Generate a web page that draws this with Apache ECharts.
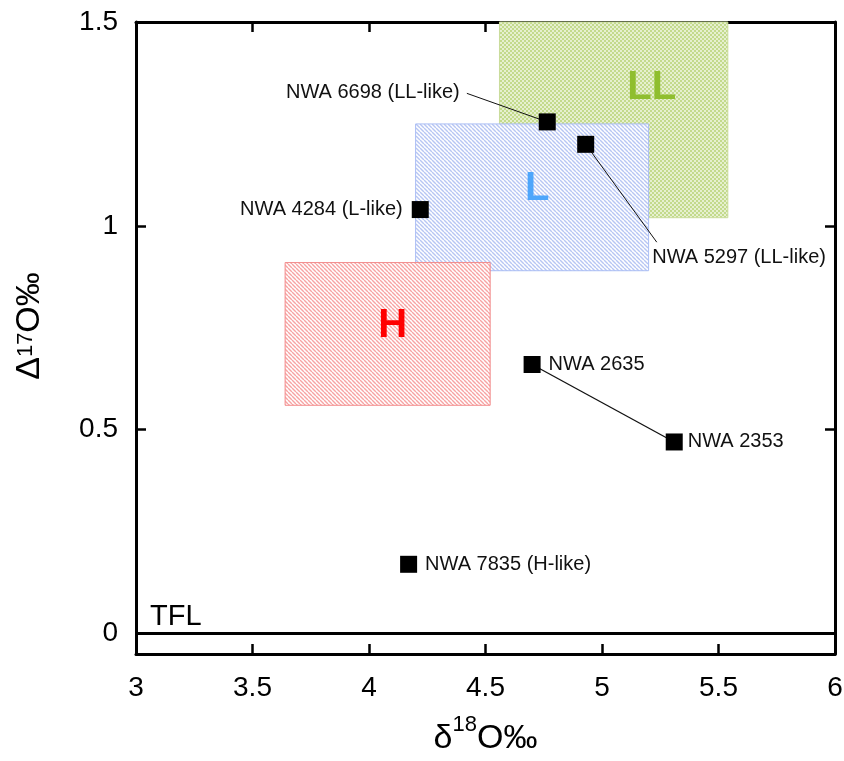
<!DOCTYPE html>
<html>
<head>
<meta charset="utf-8">
<script src="https://cdn.jsdelivr.net/npm/echarts@6/dist/echarts.min.js"></script>
<style>
  html, body { margin: 0; padding: 0; background: #fff; }
  #chart { width: 844px; height: 761px; }
</style>
</head>
<body>
<div id="chart"></div>
<script>
// Axis ticks
const xTicks = [3, 3.5, 4, 4.5, 5, 5.5, 6];
const yTicks = [0, 0.5, 1, 1.5];

// Meteorites: δ18O and Δ17O (‰)
const meteorites = ['NWA 6698 (LL-like)', 'NWA 5297 (LL-like)', 'NWA 4284 (L-like)', 'NWA 2635', 'NWA 2353', 'NWA 7835 (H-like)'];
const d18O = [4.765, 4.93, 4.22, 4.70, 5.31, 4.17];
const D17O = [1.255, 1.20, 1.04, 0.66, 0.47, 0.17];

// Ordinary chondrite group fields (drawn in this order: LL, L, H)
const groups = ['LL', 'L', 'H'];
const groupD18O = [[4.56, 5.54], [4.20, 5.20], [3.64, 4.52]];
const groupD17O = [[1.02, 1.50], [0.89, 1.25], [0.56, 0.91]];

// Terrestrial fractionation line
const tflD17O = 0;

// Leader lines: label anchor -> meteorite
const leaderFrom = [[4.42, 1.325], [5.235, 0.96]];
const leaderTo = ['NWA 6698 (LL-like)', 'NWA 5297 (LL-like)'];
// Paired meteorites joined by a line
const pairedLink = ['NWA 2635', 'NWA 2353'];

const FONT = 'Liberation Sans, Arial, sans-serif';

function stripePattern(bg, fg, size, width) {
  const c = document.createElement('canvas');
  c.width = size; c.height = size;
  const g = c.getContext('2d');
  g.fillStyle = bg; g.fillRect(0, 0, size, size);
  g.strokeStyle = fg; g.lineWidth = width;
  for (let k = -1; k <= 1; k++) {
    g.beginPath();
    g.moveTo(k * size, 0);
    g.lineTo(k * size + size, size);
    g.stroke();
  }
  return { image: c, repeat: 'repeat' };
}
function checkPattern(a, b) {
  const c = document.createElement('canvas');
  c.width = 4; c.height = 4;
  const g = c.getContext('2d');
  g.fillStyle = b; g.fillRect(0, 0, 4, 4);
  g.fillStyle = a;
  g.fillRect(0, 0, 2, 2); g.fillRect(2, 2, 2, 2);
  return { image: c, repeat: 'repeat' };
}

const groupStyle = {
  LL: { fill: checkPattern('#c3da8c', '#e6f0cf'), border: '#c9dc9a', text: '#8fbe2e', offset: [38, -32] },
  L:  { fill: stripePattern('#ffffff', '#b7c6f3', 4, 1.4), border: '#aabdf4', text: '#4ea6fb', offset: [5, -8] },
  H:  { fill: stripePattern('#ffffff', '#f7a3a3', 4, 1.4), border: '#f28a8a', text: '#ff0000', offset: [5, -8] }
};

const areaSeries = groups.map((g, i) => ({
  type: 'scatter',
  name: g,
  data: [],
  z: 1,
  markArea: {
    silent: true,
    itemStyle: { color: groupStyle[g].fill, borderColor: groupStyle[g].border, borderWidth: 1 },
    label: {
      show: true, position: 'inside', offset: groupStyle[g].offset,
      color: groupStyle[g].text, fontSize: 40, fontWeight: 'bold', fontFamily: FONT
    },
    data: [[
      { name: g, xAxis: groupD18O[i][0], yAxis: groupD17O[i][1] },
      { xAxis: groupD18O[i][1], yAxis: groupD17O[i][0] }
    ]]
  }
}));

// Per-point label placement
const labelPlacement = {
  'NWA 6698 (LL-like)': { position: 'left', distance: 79, offset: [0, -29] },
  'NWA 5297 (LL-like)': { position: 'right', distance: 58, offset: [0, 113] },
  'NWA 4284 (L-like)': { position: 'left', distance: 9 },
  'NWA 2635': { position: 'right', distance: 8 },
  'NWA 2353': { position: 'right', distance: 5 },
  'NWA 7835 (H-like)': { position: 'right', distance: 8 }
};

const idx = n => meteorites.indexOf(n);
const leaderData = leaderTo.map((n, i) => ({ coords: [leaderFrom[i], [d18O[idx(n)], D17O[idx(n)]]] }));
leaderData.push({ coords: pairedLink.map(n => [d18O[idx(n)], D17O[idx(n)]]), lineStyle: { width: 1.3 } });

const titleRich = (raise) => ({
  a: { fontSize: 34, fontFamily: FONT, color: '#000', verticalAlign: 'bottom' },
  s: { fontSize: 22, fontFamily: FONT, color: '#000', verticalAlign: 'bottom', padding: [0, 0, raise, 0] }
});

const option = {
  animation: false,
  backgroundColor: '#fff',
  grid: { left: 136, right: 9, top: 22, bottom: 107, containLabel: false, outerBoundsMode: 'none' },
  xAxis: [{
    type: 'value', min: 3, max: 6, interval: 0.5, position: 'bottom',
    axisLine: { show: true, onZero: false, lineStyle: { color: '#000', width: 3 } },
    axisTick: { show: true, inside: true, length: 10, lineStyle: { color: '#000', width: 2.5 } },
    axisLabel: { color: '#000', fontSize: 28, fontFamily: FONT, margin: 20, formatter: v => xTicks.includes(v) ? String(v) : '' },
    splitLine: { show: false },
    name: '{a|δ}{s|18}{a|O‰}', nameLocation: 'middle', nameGap: 60,
    nameTextStyle: { rich: titleRich(20) }
  }, {
    type: 'value', min: 3, max: 6, interval: 0.5, position: 'top',
    axisLine: { show: true, onZero: false, lineStyle: { color: '#000', width: 3 } },
    axisTick: { show: true, inside: true, length: 10, lineStyle: { color: '#000', width: 2.5 } },
    axisLabel: { show: false }, splitLine: { show: false }
  }],
  yAxis: [{
    type: 'value', min: -0.05, max: 1.5, position: 'left',
    axisLine: { show: true, onZero: false, lineStyle: { color: '#000', width: 3 } },
    axisTick: { show: true, inside: true, length: 10, customValues: yTicks, lineStyle: { color: '#000', width: 2.5 } },
    axisLabel: { color: '#000', fontSize: 28, fontFamily: FONT, margin: 18, customValues: yTicks, formatter: v => String(v) },
    splitLine: { show: false },
    name: '{a|Δ}{s|17}{a|O‰}', nameLocation: 'middle', nameGap: 89, nameRotate: 90,
    nameTextStyle: { padding: [0, 0, 0, 24], rich: titleRich(10) }
  }, {
    type: 'value', min: -0.05, max: 1.5, position: 'right',
    axisLine: { show: true, onZero: false, lineStyle: { color: '#000', width: 3 } },
    axisTick: { show: true, inside: true, length: 10, customValues: yTicks, lineStyle: { color: '#000', width: 2.5 } },
    axisLabel: { show: false }, splitLine: { show: false }
  }],
  series: [
    ...areaSeries,
    {
      type: 'lines', coordinateSystem: 'cartesian2d', z: 3, silent: true,
      lineStyle: { color: '#111', width: 1, opacity: 1 },
      data: leaderData
    },
    {
      type: 'scatter', name: 'meteorites', z: 5,
      symbol: 'rect', symbolSize: 17,
      itemStyle: { color: '#000', opacity: 1 },
      label: { show: true, color: '#111', fontSize: 20, fontFamily: FONT, formatter: p => p.name },
      data: meteorites.map((n, i) => ({ name: n, value: [d18O[i], D17O[i]], label: labelPlacement[n] })),
      markLine: {
        silent: true, symbol: 'none',
        lineStyle: { color: '#000', width: 3, type: 'solid' },
        label: { show: true, position: 'insideStartTop', formatter: 'TFL', color: '#000', fontSize: 29, fontFamily: FONT, distance: [14, 2] },
        data: [{ yAxis: tflD17O }]
      }
    }
  ]
};

const chart = echarts.init(document.getElementById('chart'), null, { renderer: 'canvas' });
chart.setOption(option);
</script>
</body>
</html>
